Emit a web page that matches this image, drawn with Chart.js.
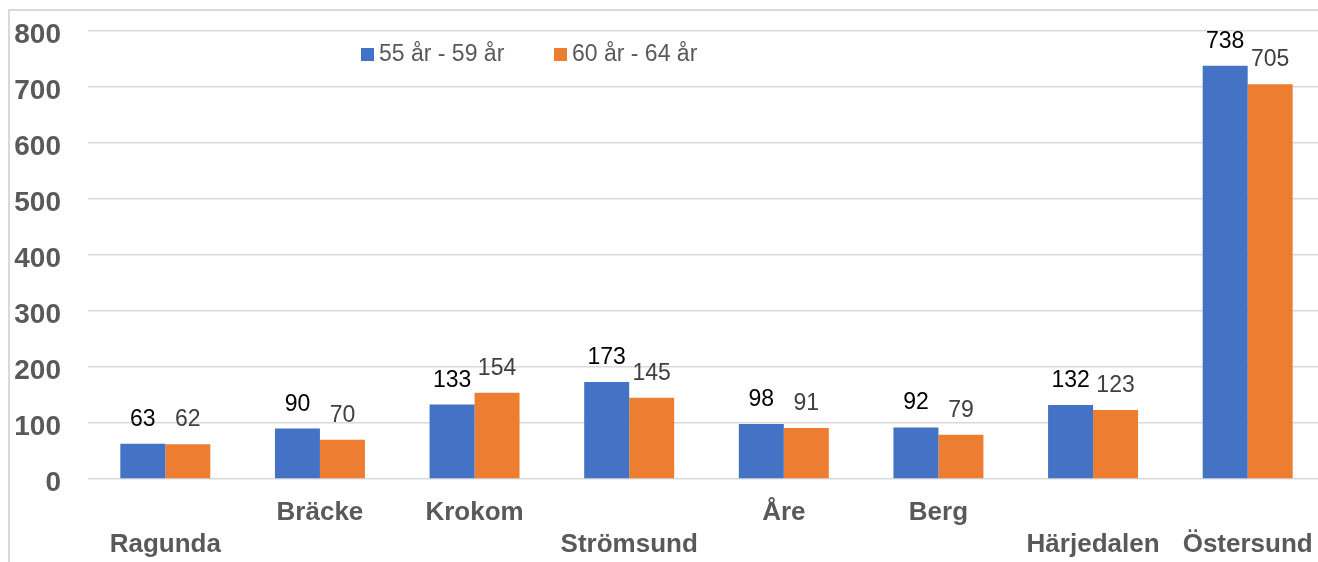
<!DOCTYPE html>
<html>
<head>
<meta charset="utf-8">
<script src="https://cdn.jsdelivr.net/npm/chart.js@4"></script>
<style>
  html, body { margin: 0; padding: 0; background: #fff; overflow: hidden; }
  #wrap { width: 1318px; height: 562px; overflow: hidden; position: relative; }
</style>
</head>
<body>
<div id="wrap"><canvas id="chart" width="1330" height="562"></canvas></div>
<script>
// kommuner, staggered labels like the original (high / low row)
const categories = [
  ['', 'Ragunda'], ['Bräcke', ''], ['Krokom', ''], ['', 'Strömsund'],
  ['Åre', ''], ['Berg', ''], ['', 'Härjedalen'], ['', 'Östersund']
];
const age55to59 = [63, 90, 133, 173, 98, 92, 132, 738];
const age60to64 = [62, 70, 154, 145, 91, 79, 123, 705];
const seriesNames = ['55 år - 59 år', '60 år - 64 år'];
const yTicks = [0, 100, 200, 300, 400, 500, 600, 700, 800];

const blue = '#4472c4';
const orange = '#ed7d31';
const grey = '#595959';

// frame + custom legend + value labels
const extras = {
  id: 'extras',
  beforeDraw(chart) {
    const ctx = chart.ctx;
    ctx.save();
    ctx.strokeStyle = '#d9d9d9';
    ctx.lineWidth = 2;
    ctx.beginPath();
    ctx.moveTo(9, 562);
    ctx.lineTo(9, 10);
    ctx.lineTo(1330, 10);
    ctx.stroke();
    ctx.restore();
  },
  afterDatasetsDraw(chart) {
    const ctx = chart.ctx;
    ctx.save();
    ctx.font = '23px "Liberation Sans", Arial, sans-serif';
    ctx.textAlign = 'center';
    ctx.textBaseline = 'alphabetic';
    chart.data.datasets.forEach((ds, i) => {
      ctx.fillStyle = i === 0 ? '#000000' : '#404040';
      chart.getDatasetMeta(i).data.forEach((bar, j) => {
        ctx.fillText(ds.data[j], bar.x, bar.y - 18);
      });
    });
    // legend
    const legendX = [361, 554];
    ctx.textAlign = 'left';
    chart.data.datasets.forEach((ds, i) => {
      ctx.fillStyle = ds.backgroundColor;
      ctx.fillRect(legendX[i], 48, 13, 13);
      ctx.fillStyle = grey;
      ctx.fillText(ds.label, legendX[i] + 18, 61);
    });
    ctx.restore();
  }
};

new Chart(document.getElementById('chart'), {
  type: 'bar',
  data: {
    labels: categories,
    datasets: [
      { label: seriesNames[0], data: age55to59, backgroundColor: blue },
      { label: seriesNames[1], data: age60to64, backgroundColor: orange }
    ]
  },
  options: {
    responsive: false,
    animation: false,
    layout: { padding: { top: 31, right: 5, left: 0, bottom: 0 } },
    categoryPercentage: 0.582,
    barPercentage: 1,
    plugins: {
      legend: { display: false },
      tooltip: { enabled: false }
    },
    scales: {
      x: {
        grid: { display: false },
        border: { display: false },
        ticks: {
          color: grey,
          padding: 10,
          maxRotation: 0,
          autoSkip: false,
          font: { family: '"Liberation Sans", Arial, sans-serif', size: 26, weight: 'bold', lineHeight: '32px' }
        },
        afterFit(scale) { scale.height = 83; }
      },
      y: {
        min: 0,
        max: 800,
        afterBuildTicks(scale) { scale.ticks = yTicks.map(v => ({ value: v })); },
        grid: { color: '#d9d9d9', lineWidth: 1.5, drawTicks: false },
        border: { display: false },
        ticks: {
          color: grey,
          padding: 27,
          labelOffset: 4,
          font: { family: '"Liberation Sans", Arial, sans-serif', size: 28, weight: 'bold' }
        },
        afterFit(scale) {
          scale.width = 88;
          scale.paddingTop = 0;
          scale.paddingBottom = 0;
        }
      }
    }
  },
  plugins: [extras]
});
</script>
</body>
</html>
